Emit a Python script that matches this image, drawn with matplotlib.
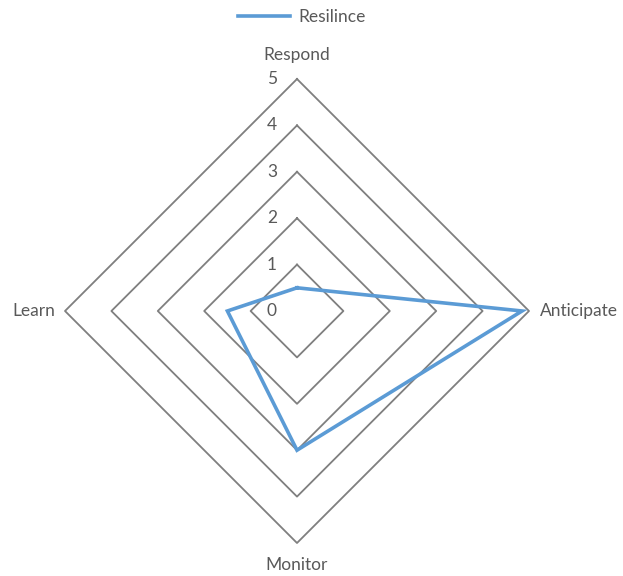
import numpy as np
import matplotlib.pyplot as plt

# Data
categories = ['Respond', 'Anticipate', 'Monitor', 'Learn']
resilience = [0.5, 4.85, 3.0, 1.5]
rings = [1, 2, 3, 4, 5]
tick_labels = ['0', '1', '2', '3', '4', '5']

plt.rcParams['font.family'] = ['Lato', 'DejaVu Sans']

fig = plt.figure(figsize=(6.23, 5.76), dpi=100)
ax = fig.add_axes([0, 0, 1, 1])
scale = 46.4
ax.set_xlim(-297 / scale, (623 - 297) / scale)
ax.set_ylim(-(576 - 311) / scale, 311 / scale)
ax.axis('off')

# angles clockwise from top
angles = np.arange(len(categories)) * 2 * np.pi / len(categories)

def to_xy(vals):
    vals = np.asarray(vals, dtype=float)
    x = vals * np.sin(angles)
    y = vals * np.cos(angles)
    return np.append(x, x[0]), np.append(y, y[0])

grid_col = '#7f7f7f'
for r in rings:
    gx, gy = to_xy([r] * len(categories))
    ax.plot(gx, gy, color=grid_col, lw=1.3, zorder=1)

dx, dy = to_xy(resilience)
ax.plot(dx, dy, color='#5B9BD5', lw=2.6, zorder=3, label='Resilince',
        solid_joinstyle='miter')

fs = 12.5
txt_col = '#595959'

# radial tick labels
for i, t in enumerate(tick_labels):
    ax.text(-20 / scale, i, t, ha='right', va='center', fontsize=fs,
            color=txt_col)

# category labels
top = max(rings)
ax.text(0, top + 24 / scale, categories[0], ha='center', va='center',
        fontsize=fs, color=txt_col)
ax.text(top + 11 / scale, 0, categories[1], ha='left', va='center',
        fontsize=fs, color=txt_col)
ax.text(0, -top - 22 / scale, categories[2], ha='center', va='center',
        fontsize=fs, color=txt_col)
ax.text(-top - 10 / scale, 0, categories[3], ha='right', va='center',
        fontsize=fs, color=txt_col)

leg = ax.legend(loc='upper center', bbox_to_anchor=(0.485, 1.0), frameon=False,
                fontsize=fs, handlelength=3.0, handletextpad=0.5,
                borderaxespad=0.1)
for t in leg.get_texts():
    t.set_color(txt_col)

fig.savefig('out.png', dpi=100)
